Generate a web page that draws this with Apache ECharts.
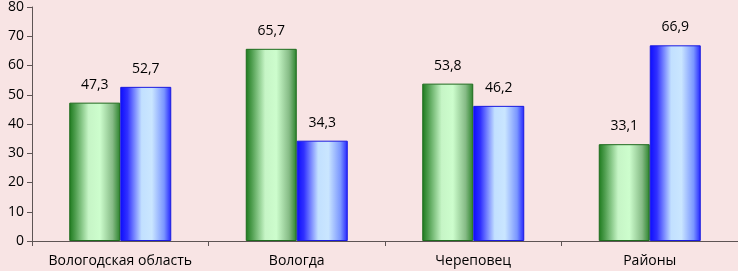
<!DOCTYPE html>
<html><head><meta charset="utf-8">
<script src="https://cdn.jsdelivr.net/npm/echarts@6/dist/echarts.min.js"></script>
<style>html,body{margin:0;padding:0;background:#f8e4e4;}#c{width:738px;height:271px;}</style>
</head><body><div id="c"></div>
<script>
const categories = ['Вологодская область', 'Вологда', 'Череповец', 'Районы'];
const seriesA = [47.3, 65.7, 53.8, 33.1];
const seriesB = [52.7, 34.3, 46.2, 66.9];
const yTicks = [0, 10, 20, 30, 40, 50, 60, 70, 80];

const font = 'Open Sans';
const green = new echarts.graphic.LinearGradient(0, 0, 1, 0, [
  {offset: 0, color: '#1c7a1c'},
  {offset: 0.12, color: '#4f9e4f'},
  {offset: 0.38, color: '#c6f5c6'},
  {offset: 0.6, color: '#cdfdcd'},
  {offset: 0.85, color: '#86bb86'},
  {offset: 1, color: '#2a822a'}
]);
const blue = new echarts.graphic.LinearGradient(0, 0, 1, 0, [
  {offset: 0, color: '#0c0cff'},
  {offset: 0.14, color: '#3030ff'},
  {offset: 0.42, color: '#c2e0ff'},
  {offset: 0.62, color: '#cae6ff'},
  {offset: 0.86, color: '#7a96ff'},
  {offset: 1, color: '#2222ff'}
]);
const fmt = p => String(p.value).replace('.', ',');
const chart = echarts.init(document.getElementById('c'));
chart.setOption({
  backgroundColor: '#f8e4e4',
  animation: false,
  grid: {left: 32, right: 0, top: 6, bottom: 30, containLabel: false},
  xAxis: {
    type: 'category', data: categories,
    axisLine: {lineStyle: {color: '#5e5454', width: 1}},
    axisTick: {show: true, interval: 0, length: 5, lineStyle: {color: '#5e5454'}},
    axisLabel: {interval: 0, hideOverlap: false, color: '#000', fontFamily: font, fontSize: 14, margin: 13}
  },
  yAxis: {
    type: 'value', min: yTicks[0], max: yTicks[yTicks.length - 1], interval: 10,
    axisLine: {show: true, lineStyle: {color: '#5e5454'}},
    axisTick: {show: true, length: 5, lineStyle: {color: '#5e5454'}},
    splitLine: {show: false},
    axisLabel: {color: '#000', fontFamily: font, fontSize: 14, margin: 8}
  },
  series: [
    {type: 'bar', data: seriesA, barWidth: 51, barGap: '0%',
     itemStyle: {color: green, borderColor: '#1d6b1d', borderWidth: 1},
     label: {show: true, position: 'top', distance: 11, formatter: fmt, color: '#000', fontFamily: font, fontSize: 14}},
    {type: 'bar', data: seriesB, barWidth: 51, barGap: '0%',
     itemStyle: {color: blue, borderColor: '#1a1ae0', borderWidth: 1},
     label: {show: true, position: 'top', distance: 11, formatter: fmt, color: '#000', fontFamily: font, fontSize: 14}}
  ]
});
</script></body></html>
